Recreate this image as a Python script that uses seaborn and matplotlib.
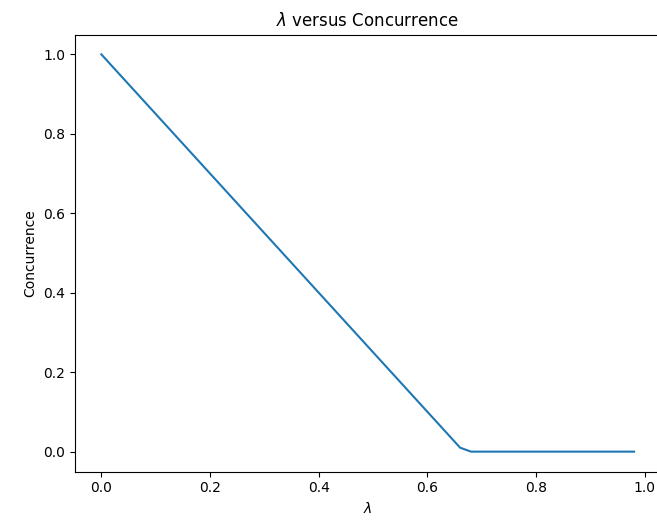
import matplotlib
matplotlib.use("Agg")
import matplotlib.pyplot as plt
import seaborn as sns
import pandas as pd

lam = [0.0, 0.66, 0.68, 0.98]
concurrence = [1.0, 0.01, 0.0, 0.0]

df = pd.DataFrame({"lam": lam, "conc": concurrence})

fig = plt.figure(figsize=(6.57, 5.21), dpi=100)
ax = fig.add_axes([74.7/657, 49.5/521, 586/657, 437/521])
sns.lineplot(data=df, x="lam", y="conc", ax=ax, color="#1f77b4", linewidth=1.5)
ax.set_title(r"$\lambda$ versus Concurrence")
ax.set_xlabel(r"$\lambda$")
ax.set_ylabel("Concurrence")
ax.set_xticks([0.0, 0.2, 0.4, 0.6, 0.8, 1.0])
ax.set_yticks([0.0, 0.2, 0.4, 0.6, 0.8, 1.0])
ax.set_xlim(-0.049, 1.029)
ax.set_ylim(-0.05, 1.05)
ax.spines["right"].set_visible(False)
fig.savefig("out.png", dpi=100)
